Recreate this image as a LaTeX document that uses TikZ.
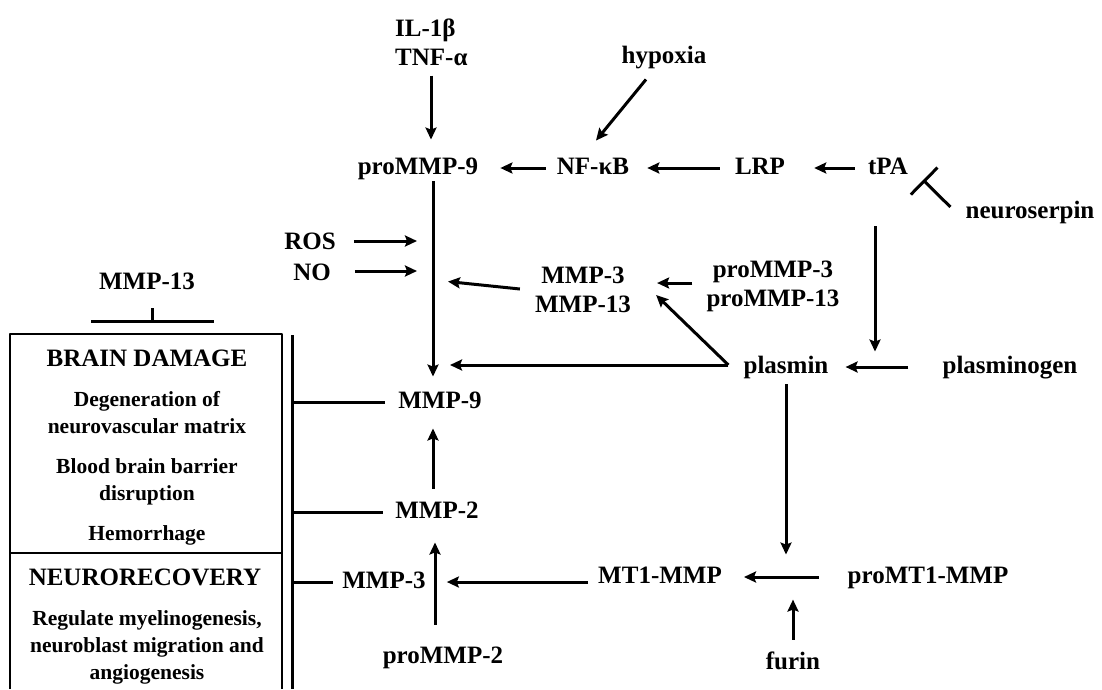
\documentclass[tikz,border=0pt]{standalone}
\usepackage{fontspec}
\setmainfont{Liberation Serif}
\usetikzlibrary{arrows.meta}

\begin{document}
\begin{tikzpicture}[x=1pt, y=-1pt, >={Stealth[length=12pt,width=11pt,inset=2pt]}, line join=round]
  \useasboundingbox (0,0) rectangle (1102,689);

  % Estilos para textos y flechas
  \tikzset{
    lbl/.style={font=\fontsize{25}{29}\selectfont\bfseries, inner sep=0pt, text height=17.5pt, text depth=5pt},
    lbltwo/.style={font=\fontsize{25}{29}\selectfont\bfseries, align=center, inner sep=0pt},
    boxtxt/.style={font=\fontsize{21.5}{27}\selectfont\bfseries, align=center, inner sep=0pt},
    arr/.style={->, line width=3pt},
    inhib/.style={-{Bar[width=#1]}, line width=3pt},
    thinline/.style={line width=1.3pt}
  }

  % Mediadores y enzimas
  \node[lbltwo, align=left, anchor=west] (il) at (395,42) {IL-1β\\TNF-α};
  \node[lbl] (hyp) at (664,57) {hypoxia};
  \node[lbl] (prommp9) at (418,168) {proMMP-9};
  \node[lbl] (nfkb) at (593,168) {NF-κB};
  \node[lbl] (lrp) at (760,168) {LRP};
  \node[lbl] (tpa) at (888,168) {tPA};
  \node[lbl] (neuro) at (1030,212) {neuroserpin};
  \node[lbl] (ros) at (310,243) {ROS};
  \node[lbl] (no) at (312,274) {NO};
  \node[lbltwo] (mmp313) at (583,290) {MMP-3\\MMP-13};
  \node[lbltwo] (prommp313) at (773,286) {proMMP-3\\proMMP-13};
  \node[lbl] (plasmin) at (786,367) {plasmin};
  \node[lbl] (plg) at (1010,367) {plasminogen};
  \node[lbl] (mmp9) at (440,402) {MMP-9};
  \node[lbl] (mmp2) at (437,512) {MMP-2};
  \node[lbl] (mmp3) at (384,582) {MMP-3};
  \node[lbl] (mt1) at (660,577) {MT1-MMP};
  \node[lbl] (promt1) at (928,577) {proMT1-MMP};
  \node[lbl] (prommp2) at (443,657) {proMMP-2};
  \node[lbl] (furin) at (793,663) {furin};
  \node[lbl] (mmp13) at (147,283) {MMP-13};

  % Flechas de la parte superior
  \draw[arr] ([shift={(13,10)}]prommp9.north |- il.south) -- ([shift={(13,-17)}]prommp9.north);
  \draw[arr] ([shift={(-18,11)}]hyp.south) -- ([shift={(3,-16)}]nfkb.north);
  \draw[arr] ([shift={(-11,0)}]nfkb.west) -- ([shift={(22,0)}]prommp9.east);
  \draw[arr] ([shift={(-15,0)}]lrp.west) -- ([shift={(18,0)}]nfkb.east);
  \draw[arr] ([shift={(-13,0)}]tpa.west) -- ([shift={(29,0)}]lrp.east);
  \draw[inhib=38pt] ([shift={(-15,-5)}]neuro.west) -- ([shift={(15,12)}]tpa.east);
  \draw[arr] ([shift={(-13,47)}]tpa.south) -- ([shift={(-13,-4)}]tpa.south |- plasmin.north);

  % Plasmina y sus ramas
  \draw[arr] ([shift={(-34,0)}]plg.west) -- ([shift={(17,0)}]plasmin.east);
  \coordinate (apex) at ([shift={(-15,-2)}]plasmin.west);
  \draw[arr] (apex) -- ([shift={(10,0)}]apex -| mmp9.north);
  \draw[arr] (apex) -- ([shift={(25,5)}]mmp313.east);
  \draw[arr] ([shift={(-14,-3)}]prommp313.west) -- ([shift={(26,-3)}]prommp313.west -| mmp313.east);
  \draw[arr] ([shift={(-15,-1)}]mmp313.west) -- ([shift={(8,-109)}]mmp9.north);
  \draw[arr] ([shift={(18,-2)}]ros.east) -- ([shift={(-23,-2)}]ros.east -| mmp9.north);
  \draw[arr] ([shift={(24,-3)}]no.east) -- ([shift={(-23,-3)}]no.east -| mmp9.north);

  % Tronco proMMP-9 -> MMP-9
  \draw[arr] ([shift={(15,2)}]prommp9.south) -- ([shift={(-7,-14)}]mmp9.north);

  % Parte inferior
  \draw[arr] ([shift={(-4,-12)}]mmp2.north) -- ([shift={(-7,15)}]mmp9.south);
  \draw[arr] ([shift={(-8,-21)}]prommp2.north) -- ([shift={(-8,19)}]prommp2.north |- mmp2.south);
  \draw[arr] ([shift={(-10,0)}]mt1.west |- mmp3.east) -- ([shift={(21,0)}]mmp3.east);
  \draw[arr] ([shift={(-29,0)}]promt1.west) -- ([shift={(22,0)}]mt1.east);
  \draw[arr] ([shift={(0,6)}]plasmin.south) -- ([shift={(0,-11)}]plasmin.south |- promt1.north);
  \draw[arr] ([shift={(0,-12)}]furin.north) -- ([shift={(0,-52)}]furin.north);

  % Barra vertical hacia el recuadro
  \coordinate (bartop) at (292,335);
  \coordinate (barbot) at (292,689);
  \draw[line width=3pt] (bartop) -- (barbot);
  \draw[line width=3pt] (bartop |- mmp9.west) -- ([shift={(-13,0)}]mmp9.west);
  \draw[line width=3pt] (bartop |- mmp2.west) -- ([shift={(-12,0)}]mmp2.west);
  \draw[line width=3pt] (bartop |- mmp3.west) -- ([shift={(-9,0)}]mmp3.west);

  % MMP-13 inhibe
  \draw[inhib=123pt] ([shift={(5,14)}]mmp13.south) -- ([shift={(5,29)}]mmp13.south);

  % Recuadro de efectos
  \draw[thinline] (10,689) -- (10,334) -- (282,334) -- (282,689);
  \draw[thinline] (10,553) -- (282,553);
  \node[lbl] (bdhead) at (147,360) {BRAIN DAMAGE};
  \node[boxtxt] (degen) at (147,413) {Degeneration of\\neurovascular matrix};
  \node[boxtxt] (bbb) at (147,482) {Blood brain barrier\\disruption};
  \node[boxtxt] (hem) at (147,535) {Hemorrhage};
  \node[lbl] (nrhead) at (145,579) {NEURORECOVERY};
  \node[boxtxt] (regul) at (147,647) {Regulate myelinogenesis,\\neuroblast migration and\\angiogenesis};
\end{tikzpicture}
\end{document}
